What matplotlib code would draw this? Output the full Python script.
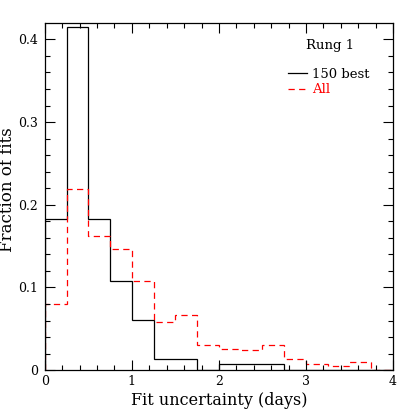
import matplotlib as mpl
import matplotlib.pyplot as plt
import numpy as np

# границы интервалов (дни)
bin_edges = np.arange(0, 4.01, 0.25)

# доля аппроксимаций, 150 лучших
frac_best = [0.183, 0.415, 0.183, 0.108, 0.061, 0.013, 0.013, 0.0,
             0.007, 0.007, 0.007, 0.0, 0.0, 0.0, 0.0, 0.0]
# доля аппроксимаций, все
frac_all = [0.080, 0.219, 0.162, 0.146, 0.108, 0.058, 0.067, 0.031,
            0.026, 0.024, 0.030, 0.013, 0.008, 0.005, 0.010, 0.0]

mpl.rc('font', family='DejaVu Serif')
mpl.rcParams['figure.subplot.left'] = 0.108
mpl.rcParams['figure.subplot.right'] = 0.947
mpl.rcParams['figure.subplot.bottom'] = 0.108
mpl.rcParams['figure.subplot.top'] = 0.945

fig = plt.figure()
fig.set_size_inches(4.15, 4.15)
fig.dpi = 100
axes = fig.add_subplot(111)

axes.stairs(frac_best, bin_edges, color='black', lw=0.9, label='150 best')
axes.stairs(frac_all, bin_edges, color='red', lw=0.9, ls=(0, (5, 3.5)),
            label='All')

axes.set_xlim(0, 4)
axes.set_ylim(0, 0.42)
axes.set_xticks([0, 1, 2, 3, 4])
axes.set_xticks(np.arange(0, 4.01, 0.2), minor=True)
axes.set_yticks([0, 0.1, 0.2, 0.3, 0.4])
axes.set_yticklabels(['0', '0.1', '0.2', '0.3', '0.4'])
axes.set_yticks(np.arange(0, 0.42, 0.02), minor=True)
axes.tick_params(which='both', direction='in', top=True, right=True,
                 labelsize=9, width=0.8)
axes.tick_params(which='major', length=7)
axes.tick_params(which='minor', length=3.5)
axes.tick_params(axis='y', which='major', pad=5)
for sp in axes.spines.values():
    sp.set_linewidth(0.9)

axes.set_xlabel('Fit uncertainty (days)', fontsize=11.5, labelpad=3)
axes.set_ylabel('Fraction of fits', fontsize=12)
axes.yaxis.set_label_coords(-0.082, 0.52)

axes.text(0.82, 0.935, 'Rung 1', transform=axes.transAxes, ha='center',
          va='center', fontsize=9.5)
leg = axes.legend(loc='upper left', bbox_to_anchor=(0.68, 0.89),
                  frameon=False, fontsize=9.5, handlelength=1.4,
                  handletextpad=0.4, borderpad=0, labelspacing=0.2)
leg.get_texts()[1].set_color('red')

plt.savefig('out.png', dpi=100)
plt.close(fig)
